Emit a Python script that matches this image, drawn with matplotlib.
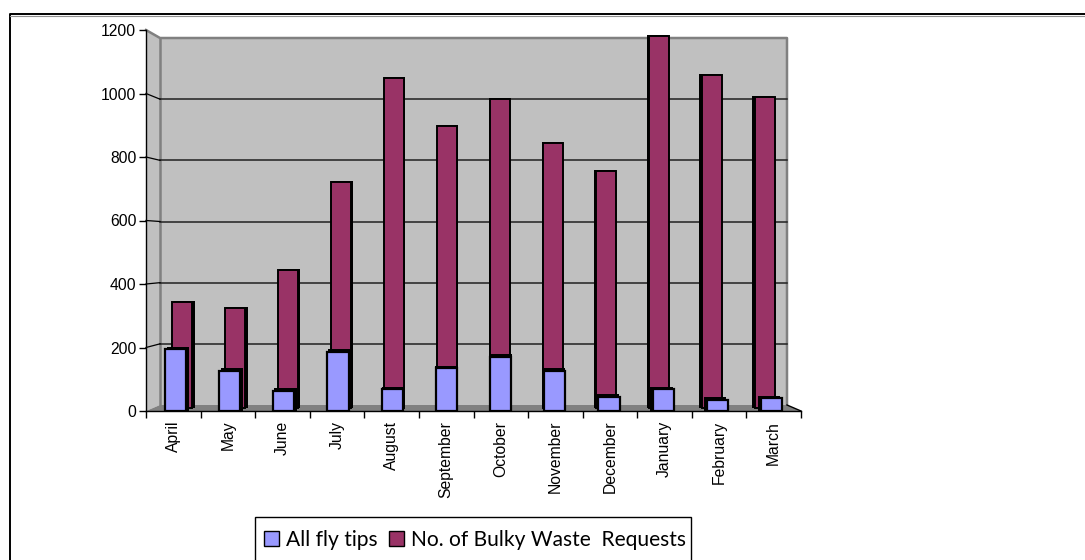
import numpy as np
import matplotlib
matplotlib.use('Agg')
import matplotlib.pyplot as plt
from matplotlib.patches import Polygon, Rectangle

months = ['April', 'May', 'June', 'July', 'August', 'September', 'October',
          'November', 'December', 'January', 'February', 'March']
fly_tips = [195, 127, 63, 186, 69, 135, 170, 126, 44, 69, 35, 40]
bulky_requests = [343, 325, 444, 722, 1048, 898, 983, 844, 756, 1181, 1058, 989]
yticks = [0, 200, 400, 600, 800, 1000, 1200]

BLUE = '#9999ff'
PURPLE = '#993366'
WALL = '#c0c0c0'
FLOOR = '#808080'
W, H = 1085, 560

plt.rcParams['font.family'] = ['Liberation Sans', 'DejaVu Sans']

fig = plt.figure(figsize=(W / 100, H / 100), dpi=100)

# full figure overlay in pixel coords, for frame and fake 3d box
bg = fig.add_axes([0, 0, 1, 1], zorder=0)
bg.set_xlim(0, W)
bg.set_ylim(H, 0)
bg.axis('off')

# frame only on top and left, the rest is cropped off in the original
bg.plot([9.5, 9.5, W], [H, 14, 14], color='black', lw=1.4)
bg.plot([10, W], [15.5, 15.5], color='#909090', lw=0.8)

bg.add_patch(Polygon([(146, 30), (160, 38), (160, 405), (146, 411)], fc=WALL, ec='none'))
bg.add_patch(Rectangle((160, 38), 627, 367, fc=WALL, ec='none'))
bg.add_patch(Polygon([(146, 411), (160, 405), (787, 405), (801, 411)], fc=FLOOR, ec='none'))
bg.plot([146, 160, 787, 787], [30, 38, 38, 405], color=FLOOR, lw=1.8)
bg.plot([160, 160], [38, 405], color=FLOOR, lw=1.8)
bg.plot([787, 801], [405, 411], color='black', lw=1)

# gridlines on the back wall, then the bit down the side wall
for v in yticks[1:-1]:
    wall_y = 405 - v * 367 / 1200
    front_y = 411 - v * 381 / 1200
    bg.plot([160, 787], [wall_y, wall_y], color='#202020', lw=1.1)
    bg.plot([146, 160], [front_y, wall_y], color='black', lw=0.9)

ax = fig.add_axes([146 / W, 1 - 411 / H, 655 / W, 381 / H], zorder=1)
ax.patch.set_alpha(0)
ax.set_xlim(0, 12)
ax.set_ylim(0, 1200)

idx = np.arange(12)
centre = idx + 0.5
# bars further back sit closer to the middle of the chart
x_purple = 6 + (centre - 6) * 0.971
x_blue = 6 + (centre - 6) * 0.9927
side_purple = (6 - x_purple) * 0.0085
side_blue = (6 - x_blue) * 0.0085

requests = np.array(bulky_requests)
tips = np.array(fly_tips)

ax.bar(x_purple + side_purple, requests + 3 - 10, width=0.39, bottom=10, color='black', zorder=2)
ax.bar(x_purple, requests - 10, width=0.37, bottom=10, color=PURPLE,
       edgecolor='black', linewidth=1.4, zorder=3)
ax.bar(x_blue + side_blue, tips + 8, width=0.41, color='black', zorder=4)
ax.bar(x_blue, tips, width=0.39, color=BLUE, edgecolor='black', linewidth=1.6, zorder=5)

ax.set_xticks(np.arange(13))
ax.set_xticklabels([])
ax.set_xticks(centre, minor=True)
ax.set_xticklabels(months, minor=True, rotation=90, fontsize=11.3)
ax.tick_params(axis='x', which='major', length=5, width=1, color='black')
ax.tick_params(axis='x', which='minor', length=0, pad=7)
ax.set_yticks(yticks)
ax.tick_params(axis='y', length=5, width=1, labelsize=11.3, pad=2)
for side in ['top', 'right']:
    ax.spines[side].set_visible(False)
ax.spines['left'].set_linewidth(1)
ax.spines['bottom'].set_linewidth(1)

# legend box gets cut by the bottom of the picture
bg.add_patch(Rectangle((255, 517), 436, 60, fc='white', ec='black', lw=1, zorder=1))
handles = [Rectangle((0, 0), 1, 1, fc=BLUE, ec='black', lw=1),
           Rectangle((0, 0), 1, 1, fc=PURPLE, ec='black', lw=1)]
fig.legend(handles, ['All fly tips', 'No. of Bulky Waste  Requests'],
           loc='center left', bbox_to_anchor=(264 / W, 1 - 540 / H), ncol=2, frameon=False,
           prop={'family': 'Lato', 'size': 15.1}, handlelength=0.71, handleheight=0.71,
           handletextpad=0.33, columnspacing=0.55, borderpad=0, borderaxespad=0)

fig.savefig('out.png', dpi=100)
